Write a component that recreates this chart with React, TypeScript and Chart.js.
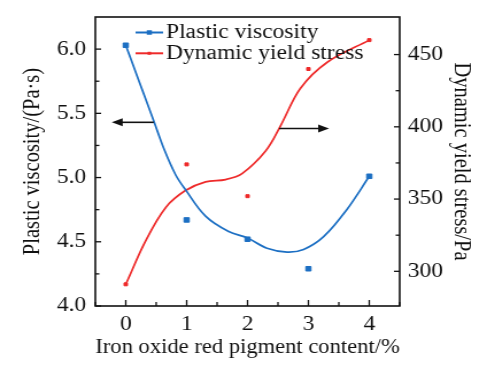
import React, { useEffect, useRef } from "react";
import { Chart, registerables } from "chart.js";

Chart.register(...registerables);

const contents = [0, 1, 2, 3, 4];
const viscosity = [6.03, 4.67, 4.52, 4.29, 5.01];
const yieldStress = [291, 374, 352, 440, 460];

const viscFitX = [0, 0.46, 0.63, 0.82, 0.98, 1.31, 1.69, 2.0, 2.32, 2.65, 2.92, 3.25, 3.63, 4.0];
const viscFitY = [6.03, 5.44, 5.22, 5.02, 4.906, 4.7, 4.58, 4.53, 4.45, 4.42, 4.44, 4.54, 4.75, 5.01];
const yieldFitX = [0, 0.33, 0.66, 0.98, 1.31, 1.64, 1.91, 2.3, 2.54, 2.87, 3.31, 4.0];
const yieldFitY = [291, 321.4, 344.4, 355.9, 361.9, 363.5, 367.6, 383.4, 400.5, 426.7, 444.7, 460];

const xTicks = [0, 1, 2, 3, 4];
const xMinor = [-0.5, 0.5, 1.5, 2.5, 3.5, 4.5];
const yLeftTicks = [4.0, 4.5, 5.0, 5.5, 6.0];
const yLeftMinor = [4.25, 4.75, 5.25, 5.75];
const yRightTicks = [300, 350, 400, 450];
const yRightMinor = [325, 375, 425];

const seriesNames = ["Plastic viscosity", "Dynamic yield stress"];
const BLUE = "#1c6fc3";
const RED = "#ee2a2a";
const FONT = "'Liberation Serif', 'Times New Roman', serif";
const FS = 20.5;
// the reference is horizontally stretched: draw narrower, display at full width
const CW = 424;
const CH = 369;

// arrows (data units): [x0, x1, y, axis]
const arrows: [number, number, number, string][] = [
  [0.46, -0.23, 5.43, "y"],
  [2.52, 3.34, 398.8, "y1"],
];

const decorPlugin = {
  id: "decor",
  afterDraw(chart: any) {
    const { ctx, chartArea: ca, scales } = chart;
    const sx = scales.x, sy = scales.y, sy1 = scales.y1;
    ctx.save();
    ctx.strokeStyle = "#111";
    ctx.lineWidth = 1.6;
    ctx.strokeRect(ca.left, ca.top, ca.right - ca.left, ca.bottom - ca.top);
    ctx.lineWidth = 1.3;
    const line = (x1: number, y1: number, x2: number, y2: number) => {
      ctx.beginPath();
      ctx.moveTo(x1, y1);
      ctx.lineTo(x2, y2);
      ctx.stroke();
    };
    xTicks.forEach((v) => { const p = sx.getPixelForValue(v); line(p, ca.bottom, p, ca.bottom - 6); });
    xMinor.forEach((v) => { const p = sx.getPixelForValue(v); line(p, ca.bottom, p, ca.bottom - 4); });
    yLeftTicks.forEach((v) => { const p = sy.getPixelForValue(v); line(ca.left, p, ca.left + 5, p); });
    yLeftMinor.forEach((v) => { const p = sy.getPixelForValue(v); line(ca.left, p, ca.left + 3.5, p); });
    yRightTicks.forEach((v) => { const p = sy1.getPixelForValue(v); line(ca.right, p, ca.right - 5, p); });
    yRightMinor.forEach((v) => { const p = sy1.getPixelForValue(v); line(ca.right, p, ca.right - 3.5, p); });

    // arrows
    ctx.fillStyle = "#111";
    ctx.lineWidth = 1.6;
    arrows.forEach(([a, b, v, ax]) => {
      const x0 = sx.getPixelForValue(a);
      const x1 = sx.getPixelForValue(b);
      const y = scales[ax].getPixelForValue(v);
      const dir = Math.sign(x1 - x0);
      line(x0, y, x1 - dir * 7, y);
      ctx.beginPath();
      ctx.moveTo(x1, y);
      ctx.lineTo(x1 - dir * 9.5, y - 4);
      ctx.lineTo(x1 - dir * 9.5, y + 4);
      ctx.closePath();
      ctx.fill();
    });

    // legend
    const colors = [BLUE, RED];
    const lx0 = ca.left + 35, lx1 = ca.left + 59;
    ctx.font = `${FS}px ${FONT}`;
    ctx.textBaseline = "middle";
    seriesNames.forEach((name, i) => {
      const y = ca.top + 15.5 + i * 20.8;
      ctx.strokeStyle = colors[i];
      ctx.lineWidth = 2;
      line(lx0, y, lx1, y);
      ctx.fillStyle = colors[i];
      const s = i === 0 ? 4.5 : 3;
      ctx.fillRect((lx0 + lx1) / 2 - s / 2, y - s / 2, s, s);
      ctx.fillStyle = "#111";
      ctx.fillText(name, lx1 + 2.5, y + 0.5);
    });
    ctx.restore();
  },
};

export default function App() {
  const ref = useRef<HTMLCanvasElement>(null);
  useEffect(() => {
    const chart = new Chart(ref.current!, {
      type: "scatter",
      data: {
        datasets: [
          {
            type: "line",
            data: viscFitX.map((x, i) => ({ x, y: viscFitY[i] })),
            borderColor: BLUE,
            borderWidth: 1.7,
            pointRadius: 0,
            tension: 0.35,
            yAxisID: "y",
          } as any,
          {
            type: "line",
            data: yieldFitX.map((x, i) => ({ x, y: yieldFitY[i] })),
            borderColor: RED,
            borderWidth: 1.7,
            pointRadius: 0,
            tension: 0.35,
            yAxisID: "y1",
          } as any,
          {
            label: seriesNames[0],
            data: contents.map((x, i) => ({ x, y: viscosity[i] })),
            backgroundColor: BLUE,
            borderColor: BLUE,
            pointStyle: "rect",
            pointRadius: 3.2,
            yAxisID: "y",
          },
          {
            label: seriesNames[1],
            data: contents.map((x, i) => ({ x, y: yieldStress[i] })),
            backgroundColor: RED,
            borderColor: RED,
            pointStyle: "rect",
            pointRadius: 2.1,
            yAxisID: "y1",
          },
        ],
      },
      options: {
        animation: false,
        responsive: false,
        devicePixelRatio: 1,
        layout: { padding: { top: 17, left: 0, right: 0, bottom: 0 } },
        plugins: { legend: { display: false }, tooltip: { enabled: false } },
        scales: {
          x: {
            type: "linear",
            min: -0.5,
            max: 4.5,
            afterBuildTicks: (a: any) => { a.ticks = xTicks.map((value) => ({ value })); },
            afterFit: (a: any) => { a.height = 63; a.paddingLeft = 0; a.paddingRight = 0; },
            grid: { display: false, drawTicks: false },
            border: { display: false },
            ticks: { font: { family: FONT, size: FS }, color: "#111", padding: 6, maxRotation: 0 },
            title: {
              display: true,
              text: "Iron oxide red pigment content/%",
              font: { family: FONT, size: FS },
              color: "#111",
              padding: 9.5,
            },
          },
          y: {
            position: "left",
            min: 4.0,
            max: 6.25,
            afterBuildTicks: (a: any) => { a.ticks = yLeftTicks.map((value) => ({ value })); },
            afterFit: (a: any) => { a.width = 83; a.paddingTop = 0; a.paddingBottom = 0; },
            grid: { display: false, drawTicks: false },
            border: { display: false },
            ticks: {
              font: { family: FONT, size: FS },
              color: "#111",
              padding: 8,
              callback: (v: any) => Number(v).toFixed(1),
            },
            title: {
              display: true,
              text: "Plastic viscosity/(Pa·s)",
              font: { family: FONT, size: FS },
              color: "#111",
              padding: 16,
            },
          },
          y1: {
            position: "right",
            min: 276,
            max: 476,
            afterBuildTicks: (a: any) => { a.ticks = yRightTicks.map((value) => ({ value })); },
            afterFit: (a: any) => { a.width = 76; a.paddingTop = 0; a.paddingBottom = 0; },
            grid: { display: false, drawTicks: false },
            border: { display: false },
            ticks: { font: { family: FONT, size: FS }, color: "#111", padding: 7 },
            title: {
              display: true,
              text: "Dynamic yield stress/Pa",
              font: { family: FONT, size: FS },
              color: "#111",
              padding: 10,
            },
          },
        },
      },
      plugins: [decorPlugin],
    } as any);
    return () => chart.destroy();
  }, []);
  return (
    <div style={{ position: "absolute", left: 0, top: 0, width: 487, height: 369, background: "#fff" }}>
      <canvas
        ref={ref}
        width={CW}
        height={CH}
        style={{ display: "block", width: "487px", height: "369px" }}
      />
    </div>
  );
}
